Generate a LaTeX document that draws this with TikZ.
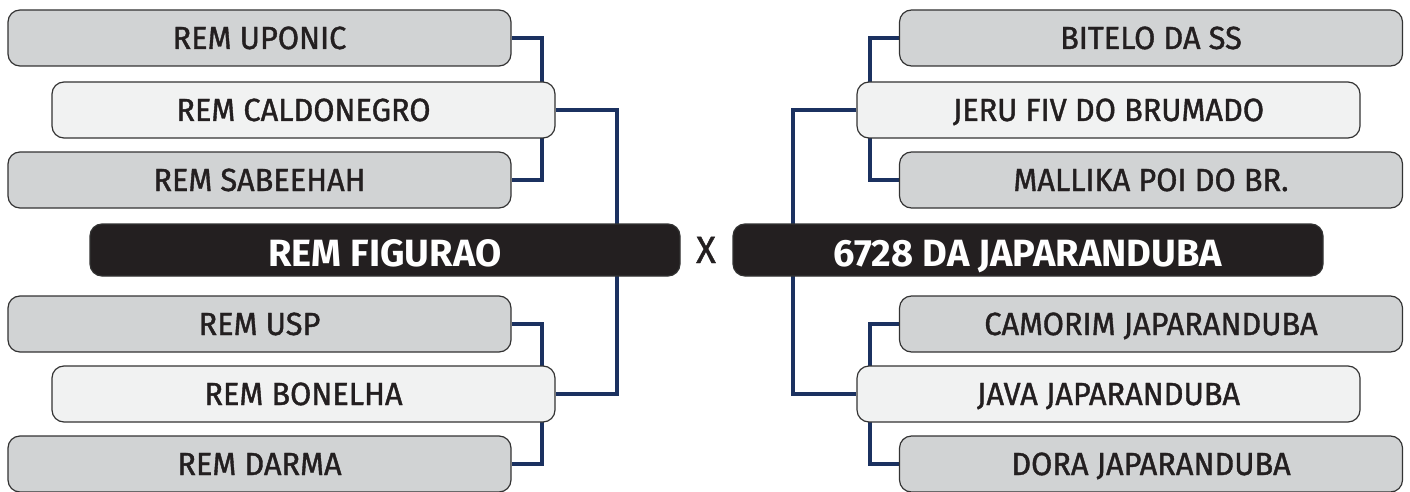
\documentclass[tikz,border=0pt]{standalone}
\usepackage{fontspec}
\usepackage{xcolor}
\usepackage{tikz}
\usetikzlibrary{backgrounds}

\newfontfamily\boxfont{Fira Sans}[FakeStretch=0.96, FakeBold=1.2]
\newfontfamily\finalfont{Fira Sans}[FakeStretch=1.0]

\definecolor{boxgray}{HTML}{D1D3D4}
\definecolor{boxlight}{HTML}{F1F2F2}
\definecolor{boxdark}{HTML}{231F20}
\definecolor{linknavy}{HTML}{1B3160}

\begin{document}
\begin{tikzpicture}[x=1pt,y=-1pt,
    entry/.style={draw=black!80, line width=1.2pt, rounded corners=12pt, minimum width=503pt, minimum height=56pt, inner sep=0pt,
        text=boxdark, font=\boxfont\fontsize{32}{32}\selectfont, text height=22pt, text depth=0pt},
    outer/.style={entry, fill=boxgray},
    inner/.style={entry, fill=boxlight},
    finalist/.style={entry, fill=boxdark, text=white, minimum width=590pt, minimum height=52pt,
        font=\finalfont\bfseries\fontsize{38}{38}\selectfont, text height=33pt},
    link/.style={draw=linknavy, line width=4.2pt}]
    \useasboundingbox (0,0) rectangle (1410,492);

    % left bracket
    \node[outer] (uponic) at (259.5,38) {REM UPONIC};
    \node[inner] (caldonegro) at (303.5,110) {REM CALDONEGRO};
    \node[outer] (sabeehah) at (259.5,180) {REM SABEEHAH};
    \node[finalist] (figurao) at (385,250) {REM FIGURAO};
    \node[outer] (usp) at (259.5,324) {REM USP};
    \node[inner] (bonelha) at (303.5,394) {REM BONELHA};
    \node[outer] (darma) at (259.5,464) {REM DARMA};

    % right bracket
    \node[outer] (bitelo) at (1151,38) {BITELO DA SS};
    \node[inner] (jeru) at (1108.5,110) {JERU FIV DO BRUMADO};
    \node[outer] (mallika) at (1151,180) {MALLIKA POI DO BR.};
    \node[finalist] (japaranduba) at (1028,250) {6728 DA JAPARANDUBA};
    \node[outer] (camorim) at (1151,324) {CAMORIM JAPARANDUBA};
    \node[inner] (java) at (1108.5,394) {JAVA JAPARANDUBA};
    \node[outer] (dora) at (1151,464) {DORA JAPARANDUBA};

    \node[text=boxdark, font=\boxfont\fontsize{38}{38}\selectfont, text height=26pt, text depth=0pt, inner sep=0pt] (versus) at (706,250) {X};

    \coordinate (leftjoin) at (617,250);
    \coordinate (rightjoin) at (793,250);

    \begin{scope}[on background layer]
        \draw[link] (uponic.east) -- ++(30,0) |- (sabeehah.east);
        \draw[link] (usp.east) -- ++(30,0) |- (darma.east);
        \draw[link] (caldonegro.east) -| (leftjoin) |- (bonelha.east);
        \draw[link] (bitelo.west) -- ++(-29,0) |- (mallika.west);
        \draw[link] (camorim.west) -- ++(-29,0) |- (dora.west);
        \draw[link] (jeru.west) -| (rightjoin) |- (java.west);
    \end{scope}
\end{tikzpicture}
\end{document}
